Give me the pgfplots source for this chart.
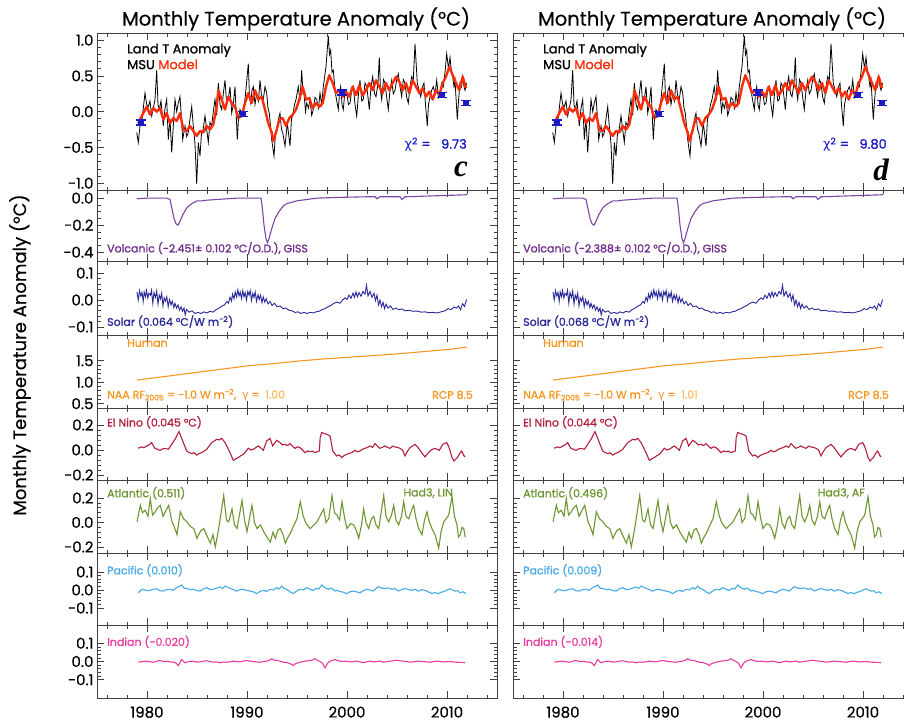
\documentclass[border=0pt]{standalone}
\usepackage{pgfplots}
\pgfplotsset{compat=1.18}
\usepackage{pgfplotstable}
\usepackage{fontspec}
\setmainfont{Poppins}[FakeBold=0.35]
\newfontfamily\labf{Poppins}[FakeBold=1.2]
\newfontfamily\grk{DejaVu Sans}
\newfontfamily\serifbi{Liberation Serif}
\definecolor{mred}{RGB}{250,45,10}
\definecolor{cblue}{RGB}{25,25,200}
\definecolor{cvol}{RGB}{112,45,140}
\definecolor{cvoll}{RGB}{125,70,165}
\definecolor{csol}{RGB}{40,40,150}
\definecolor{chum}{RGB}{245,150,35}
\definecolor{chuml}{RGB}{250,185,90}
\definecolor{cnino}{RGB}{180,30,60}
\definecolor{catl}{RGB}{110,150,50}
\definecolor{cpac}{RGB}{70,170,230}
\definecolor{cind}{RGB}{230,60,160}

\pgfplotstableread{
x y
1978.97 -0.29
1979.13 -0.43
1979.30 -0.20
1979.47 -0.16
1979.63 0.05
1979.80 0.26
1979.97 0.10
1980.13 0.07
1980.30 0.15
1980.47 -0.06
1980.63 0.05
1980.80 0.17
1980.97 0.58
1981.10 0.10
1981.23 0.03
1981.40 0.15
1981.63 -0.20
1981.80 0.05
1981.97 0.17
1982.13 -0.39
1982.30 -0.10
1982.47 -0.57
1982.63 -0.20
1982.80 0.17
1982.97 0.00
1983.13 0.12
1983.30 0.21
1983.45 -0.10
1983.57 -0.39
1983.80 -0.20
1983.97 -0.35
1984.13 -0.29
1984.30 -0.10
1984.47 0.07
1984.63 -0.20
1984.80 -0.45
1984.97 -1.01
1985.13 -0.43
1985.30 -0.62
1985.45 -0.30
1985.57 -0.29
1985.80 -0.06
1985.97 -0.25
1986.13 -0.43
1986.30 -0.15
1986.47 -0.20
1986.63 0.00
1986.80 0.17
1986.97 -0.05
1987.13 0.40
1987.30 0.10
1987.47 0.03
1987.63 0.25
1987.80 0.44
1987.97 0.10
1988.13 0.17
1988.30 0.35
1988.47 -0.02
1988.63 0.10
1988.80 0.35
1989.03 -0.39
1989.15 -0.10
1989.30 0.03
1989.55 -0.05
1989.80 0.17
1990.13 0.67
1990.25 0.20
1990.37 0.12
1990.50 0.30
1990.63 0.35
1990.80 0.10
1990.97 0.26
1991.15 0.15
1991.30 0.44
1991.47 0.20
1991.63 0.17
1991.80 0.35
1991.97 0.26
1992.10 0.05
1992.23 -0.02
1992.47 -0.39
1992.70 -0.62
1992.85 -0.30
1992.97 -0.29
1993.15 -0.10
1993.30 -0.02
1993.45 -0.25
1993.57 -0.29
1993.80 -0.48
1994.03 -0.16
1994.15 -0.30
1994.30 -0.48
1994.45 -0.10
1994.57 -0.06
1994.75 0.10
1994.90 0.17
1995.13 0.35
1995.30 0.15
1995.47 0.58
1995.60 0.25
1995.70 0.26
1995.85 0.00
1995.97 0.12
1996.15 0.05
1996.30 0.17
1996.47 -0.05
1996.63 0.03
1996.80 0.20
1996.97 0.17
1997.15 0.05
1997.30 0.26
1997.47 0.10
1997.63 0.35
1997.90 0.63
1998.13 1.06
1998.25 0.80
1998.37 0.86
1998.50 0.55
1998.63 0.58
1998.80 0.30
1998.90 0.21
1999.13 0.03
1999.25 0.25
1999.37 0.35
1999.50 0.10
1999.63 0.03
1999.80 0.30
1999.97 0.26
2000.15 0.10
2000.30 0.12
2000.47 0.30
2000.63 0.35
2000.80 0.10
2000.97 -0.06
2001.15 0.25
2001.30 0.44
2001.47 0.15
2001.63 0.17
2001.80 0.40
2001.97 0.35
2002.10 0.20
2002.23 0.03
2002.40 0.35
2002.57 0.49
2002.75 0.25
2002.90 0.21
2003.10 0.40
2003.23 0.76
2003.35 0.30
2003.47 0.17
2003.65 0.45
2003.80 0.40
2003.97 0.20
2004.13 0.03
2004.30 0.30
2004.47 0.44
2004.63 0.25
2004.80 0.30
2004.97 0.45
2005.13 0.53
2005.30 0.35
2005.47 0.21
2005.63 0.45
2005.80 0.40
2005.97 0.20
2006.13 0.12
2006.30 0.35
2006.47 0.49
2006.63 0.45
2006.80 0.95
2007.03 0.40
2007.20 0.30
2007.37 0.21
2007.55 0.35
2007.70 0.40
2007.85 0.10
2008.03 -0.20
2008.15 0.10
2008.30 0.21
2008.47 0.30
2008.63 0.35
2008.80 0.25
2008.97 0.44
2009.15 0.20
2009.30 0.26
2009.47 0.40
2009.63 0.35
2009.80 0.55
2009.97 0.81
2010.15 0.60
2010.30 0.76
2010.45 0.55
2010.57 0.49
2010.70 0.35
2010.80 0.44
2010.92 0.15
2011.03 -0.11
2011.15 0.15
2011.30 0.40
2011.45 0.35
2011.57 0.49
2011.70 0.35
2011.80 0.30
2011.95 0.40
}\landT

\pgfplotstableread{
x y
1979.13 -0.16
1979.40 -0.08
1979.63 -0.02
1979.97 0.07
1980.30 -0.04
1980.63 0.05
1980.97 0.00
1981.30 0.05
1981.63 -0.11
1981.97 -0.02
1982.30 -0.16
1982.63 -0.09
1982.97 -0.13
1983.30 -0.02
1983.63 -0.25
1983.97 -0.27
1984.30 -0.20
1984.63 -0.27
1984.97 -0.34
1985.30 -0.27
1985.63 -0.29
1985.97 -0.20
1986.30 -0.25
1986.63 -0.18
1986.97 0.07
1987.13 0.30
1987.47 0.17
1987.80 0.03
1988.13 0.21
1988.47 0.12
1988.80 0.07
1989.13 -0.09
1989.47 -0.06
1989.80 0.12
1990.13 0.26
1990.47 0.12
1990.80 0.30
1991.13 0.17
1991.47 0.21
1991.80 0.03
1992.13 -0.16
1992.47 -0.29
1992.63 -0.41
1992.90 -0.29
1993.23 -0.11
1993.57 -0.09
1993.90 -0.20
1994.23 -0.09
1994.57 -0.04
1994.90 0.03
1995.23 0.17
1995.57 0.35
1995.90 0.17
1996.23 0.19
1996.57 0.05
1996.90 0.12
1997.23 0.07
1997.57 0.12
1997.90 0.35
1998.23 0.51
1998.57 0.40
1998.90 0.26
1999.23 0.30
1999.57 0.21
1999.90 0.28
2000.23 0.21
2000.57 0.35
2000.90 0.23
2001.23 0.37
2001.57 0.23
2001.90 0.30
2002.23 0.40
2002.57 0.30
2002.90 0.44
2003.23 0.35
2003.57 0.26
2003.90 0.40
2004.23 0.30
2004.57 0.40
2004.90 0.49
2005.23 0.42
2005.57 0.30
2005.90 0.40
2006.23 0.26
2006.57 0.44
2006.90 0.35
2007.23 0.26
2007.57 0.33
2007.90 0.21
2008.23 0.28
2008.57 0.17
2008.90 0.30
2009.23 0.23
2009.57 0.40
2009.90 0.49
2010.23 0.63
2010.57 0.51
2010.90 0.40
2011.23 0.30
2011.57 0.49
2011.90 0.33
}\model

\pgfplotstableread{
x y e
1979.4 -0.15 0.035
1989.6 -0.03 0.035
1999.5 0.27 0.035
2009.5 0.23 0.035
2011.9 0.12 0.035
}\errs

\pgfplotstableread{
x y
1979.0 -0.005
1980.0 0.0
1981.0 0.0
1982.0 0.0
1982.3 -0.01
1982.5 -0.08
1982.7 -0.15
1982.9 -0.19
1983.1 -0.20
1983.3 -0.17
1983.6 -0.12
1984.0 -0.07
1984.5 -0.04
1985.0 -0.02
1985.5 -0.02
1986.0 -0.015
1987.0 -0.01
1988.0 -0.005
1989.0 0.0
1990.0 0.0
1991.4 0.0
1991.5 -0.05
1991.7 -0.20
1991.9 -0.30
1992.05 -0.33
1992.2 -0.30
1992.5 -0.22
1992.8 -0.15
1993.2 -0.10
1993.6 -0.06
1994.0 -0.04
1995.0 -0.02
1996.0 -0.01
1997.0 0.0
1999.0 0.005
2002.0 0.01
2002.8 0.01
2003.0 -0.005
2003.3 0.01
2005.3 0.01
2005.5 -0.01
2005.8 0.01
2008.0 0.015
2010.0 0.02
2012.0 0.025
}\volc

\pgfplotstableread{
x y
1979.00 0.030
1979.12 0.000
1979.25 0.035
1979.38 0.015
1979.50 0.028
1979.62 -0.005
1979.72 0.030
1979.85 0.012
1979.95 0.036
1980.08 0.008
1980.20 0.025
1980.35 0.018
1980.45 0.036
1980.58 -0.012
1980.70 0.028
1980.85 0.010
1980.97 0.034
1981.10 -0.015
1981.22 0.018
1981.35 0.004
1981.47 0.026
1981.60 -0.022
1981.72 0.008
1981.85 -0.004
1981.98 0.012
1982.12 -0.025
1982.25 0.002
1982.40 -0.018
1982.52 -0.004
1982.68 -0.028
1982.80 -0.012
1982.95 -0.030
1983.10 -0.018
1983.25 -0.038
1983.40 -0.025
1983.55 -0.042
1983.70 -0.030
1983.82 -0.055
1983.95 -0.035
1984.20 -0.045
1984.50 -0.040
1984.80 -0.050
1985.10 -0.046
1985.40 -0.050
1985.70 -0.044
1986.00 -0.048
1986.30 -0.042
1986.60 -0.045
1986.90 -0.036
1987.20 -0.030
1987.50 -0.022
1987.75 -0.018
1988.00 -0.005
1988.15 -0.012
1988.30 0.010
1988.45 -0.004
1988.55 0.022
1988.70 0.005
1988.82 0.030
1988.95 0.012
1989.08 0.038
1989.20 0.015
1989.32 0.030
1989.45 0.005
1989.58 0.035
1989.70 0.012
1989.82 0.028
1989.95 0.000
1990.08 0.032
1990.20 0.018
1990.32 0.035
1990.45 -0.002
1990.58 0.025
1990.70 0.010
1990.82 0.030
1990.95 -0.005
1991.10 0.020
1991.22 0.002
1991.35 0.018
1991.50 -0.010
1991.62 0.012
1991.78 -0.008
1991.92 0.005
1992.10 -0.015
1992.30 -0.005
1992.50 -0.020
1992.75 -0.012
1993.00 -0.025
1993.30 -0.022
1993.60 -0.032
1993.90 -0.030
1994.20 -0.038
1994.50 -0.040
1994.80 -0.046
1995.10 -0.044
1995.40 -0.050
1995.70 -0.046
1996.00 -0.050
1996.30 -0.046
1996.60 -0.048
1996.90 -0.044
1997.20 -0.042
1997.50 -0.036
1997.80 -0.032
1998.10 -0.025
1998.40 -0.020
1998.70 -0.012
1999.00 -0.008
1999.30 -0.012
1999.55 0.000
1999.80 0.008
2000.00 0.002
2000.20 0.018
2000.40 0.006
2000.60 0.026
2000.75 0.010
2000.90 0.030
2001.05 0.012
2001.20 0.028
2001.40 0.014
2001.60 0.032
2001.80 0.022
2001.95 0.055
2002.10 0.015
2002.30 0.032
2002.50 0.010
2002.70 0.025
2002.85 -0.002
2003.00 0.018
2003.15 -0.018
2003.30 0.000
2003.45 -0.025
2003.60 -0.008
2003.75 -0.032
2003.90 -0.015
2004.10 -0.030
2004.35 -0.022
2004.60 -0.035
2004.90 -0.030
2005.20 -0.036
2005.50 -0.033
2005.80 -0.040
2006.20 -0.038
2006.60 -0.042
2007.00 -0.041
2007.40 -0.045
2007.80 -0.044
2008.20 -0.047
2008.60 -0.046
2009.00 -0.048
2009.40 -0.044
2009.80 -0.040
2010.10 -0.032
2010.40 -0.036
2010.70 -0.026
2010.95 -0.030
2011.15 -0.022
2011.35 -0.036
2011.55 -0.014
2011.75 -0.024
2011.95 0.002
}\solar

\pgfplotstableread{
x y
1979.0 1.05
1982.0 1.14
1985.0 1.23
1988.0 1.32
1990.0 1.38
1991.5 1.41
1992.5 1.43
1995.0 1.49
1997.5 1.54
2000.0 1.58
2002.5 1.62
2005.0 1.66
2007.5 1.71
2010.0 1.76
2012.0 1.82
}\human

\pgfplotstableread{
x y
1979.13 0.013
1979.30 0.020
1979.47 0.024
1979.70 0.018
1979.97 0.032
1980.20 0.040
1980.47 0.059
1980.65 0.030
1980.80 0.013
1981.05 0.005
1981.30 -0.003
1981.55 0.008
1981.80 0.013
1982.13 0.005
1982.47 0.045
1982.80 0.085
1983.20 0.147
1983.57 0.072
1983.97 -0.008
1984.20 -0.020
1984.47 -0.029
1984.70 -0.022
1984.97 -0.040
1985.20 -0.030
1985.47 -0.021
1985.70 -0.010
1985.97 0.005
1986.20 0.030
1986.47 0.059
1986.70 0.070
1986.97 0.085
1987.20 0.080
1987.47 0.093
1987.80 0.059
1988.05 0.020
1988.30 -0.021
1988.63 -0.083
1988.90 -0.070
1989.13 -0.061
1989.40 -0.045
1989.63 -0.035
1989.90 -0.010
1990.13 0.013
1990.40 0.000
1990.63 0.005
1990.90 0.020
1991.13 0.032
1991.40 0.015
1991.63 -0.003
1991.97 0.072
1992.30 0.093
1992.57 0.032
1992.97 0.077
1993.30 0.059
1993.55 0.040
1993.80 0.045
1994.05 0.035
1994.30 0.051
1994.55 0.030
1994.80 0.013
1995.05 0.025
1995.30 0.019
1995.55 0.000
1995.80 -0.021
1996.05 -0.008
1996.30 -0.013
1996.55 -0.010
1996.80 -0.021
1997.23 -0.008
1997.32 0.100
1997.47 0.139
1997.70 0.132
1997.97 0.125
1998.30 0.112
1998.45 0.050
1998.57 -0.008
1998.97 -0.048
1999.20 -0.040
1999.47 -0.061
1999.70 -0.045
1999.97 -0.035
2000.20 -0.028
2000.47 -0.021
2000.80 -0.003
2001.05 -0.015
2001.30 -0.008
2001.55 0.005
2001.80 0.013
2002.05 0.020
2002.30 0.032
2002.55 0.020
2002.80 0.051
2003.05 0.030
2003.30 0.013
2003.55 0.022
2003.80 0.032
2004.05 0.020
2004.30 0.013
2004.55 0.030
2004.80 0.024
2005.05 0.020
2005.30 0.013
2005.55 0.000
2005.80 -0.048
2006.05 -0.010
2006.30 0.019
2006.55 0.030
2006.80 0.045
2007.05 0.025
2007.30 -0.003
2007.55 -0.030
2007.80 -0.056
2008.05 -0.030
2008.30 -0.008
2008.55 0.005
2008.80 0.013
2009.23 -0.003
2009.57 0.045
2009.97 0.059
2010.15 0.030
2010.30 -0.003
2010.50 -0.060
2010.70 -0.088
2011.03 -0.061
2011.25 -0.030
2011.47 -0.008
2011.65 -0.040
2011.80 -0.056
}\nino

\pgfplotstableread{
x y
1979.00 0.005
1979.33 0.14
1979.55 0.08
1979.83 0.10
1980.10 0.05
1980.33 0.196
1980.55 0.06
1980.83 0.087
1981.05 0.12
1981.33 0.14
1981.60 0.05
1981.83 0.087
1982.17 0.14
1982.50 0.005
1982.75 -0.04
1983.00 -0.10
1983.33 0.087
1983.65 0.03
1984.00 0.005
1984.30 -0.03
1984.67 -0.05
1985.00 -0.13
1985.35 -0.07
1985.67 -0.05
1986.00 -0.11
1986.33 -0.17
1986.60 -0.10
1986.83 -0.20
1987.17 -0.05
1987.67 0.22
1987.95 0.02
1988.17 0.005
1988.50 0.11
1988.75 -0.02
1989.00 -0.05
1989.50 0.18
1989.75 0.02
1990.00 -0.076
1990.50 0.14
1990.75 0.0
1991.00 -0.05
1991.35 -0.02
1991.67 -0.076
1992.00 -0.12
1992.33 -0.16
1992.60 -0.08
1992.83 -0.13
1993.10 -0.06
1993.33 -0.05
1993.60 -0.10
1993.83 -0.17
1994.10 -0.12
1994.33 -0.09
1994.70 -0.02
1995.00 0.03
1995.33 0.17
1995.60 0.06
1995.83 0.005
1996.10 -0.03
1996.33 -0.05
1996.70 -0.02
1997.00 0.005
1997.35 0.06
1997.67 0.11
1997.90 0.0
1998.17 0.03
1998.50 0.22
1998.75 0.08
1999.00 0.06
1999.25 0.02
1999.50 0.17
1999.75 0.04
2000.00 -0.05
2000.35 -0.01
2000.67 -0.02
2000.90 -0.06
2001.17 -0.13
2001.45 -0.02
2001.67 0.11
2001.90 0.0
2002.17 -0.05
2002.45 0.03
2002.67 0.05
2002.90 -0.02
2003.17 -0.05
2003.67 0.22
2003.90 0.05
2004.17 0.005
2004.45 0.06
2004.67 0.14
2004.90 0.02
2005.17 -0.02
2005.45 0.05
2005.67 0.17
2005.90 0.05
2006.17 0.03
2006.45 0.10
2006.67 0.14
2006.90 0.03
2007.17 -0.05
2007.50 -0.10
2007.75 0.02
2008.00 0.087
2008.25 0.0
2008.50 -0.05
2008.80 -0.10
2009.17 -0.21
2009.40 -0.08
2009.67 0.005
2010.00 0.04
2010.17 0.06
2010.50 0.21
2010.75 0.05
2011.00 -0.02
2011.15 -0.12
2011.33 -0.10
2011.50 -0.04
2011.67 -0.05
2011.83 -0.12
}\atl

\pgfplotstableread{
x y
1979.13 -0.015
1979.40 0.000
1979.63 0.004
1979.95 -0.004
1980.30 -0.002
1980.60 0.004
1980.97 0.007
1981.30 -0.004
1981.63 -0.006
1981.95 0.002
1982.30 0.004
1982.60 -0.002
1982.97 0.013
1983.47 0.028
1983.70 0.010
1983.97 0.009
1984.30 0.002
1984.63 0.004
1984.95 -0.003
1985.30 -0.006
1985.63 0.006
1985.97 0.013
1986.30 0.002
1986.63 0.004
1986.95 0.010
1987.30 0.017
1987.55 0.008
1987.80 0.022
1988.30 0.009
1988.63 0.002
1988.97 -0.006
1989.30 0.002
1989.63 0.004
1989.95 -0.002
1990.30 -0.006
1990.63 -0.010
1990.97 -0.020
1991.30 -0.008
1991.63 -0.002
1991.95 -0.008
1992.30 0.004
1992.63 0.000
1992.97 0.013
1993.20 0.005
1993.47 0.022
1993.70 0.008
1993.97 0.004
1994.30 -0.010
1994.63 -0.020
1994.95 -0.006
1995.30 0.004
1995.63 0.000
1995.97 0.013
1996.30 0.004
1996.63 -0.002
1996.95 0.010
1997.20 0.006
1997.47 0.028
1997.80 0.012
1998.13 0.004
1998.45 0.010
1998.80 -0.006
1999.05 -0.002
1999.30 -0.009
1999.63 -0.012
1999.97 -0.020
2000.30 -0.010
2000.63 -0.006
2000.95 -0.010
2001.30 -0.015
2001.63 -0.004
2001.97 0.004
2002.30 0.000
2002.63 -0.006
2002.90 0.008
2003.13 0.019
2003.45 0.010
2003.80 0.009
2004.13 0.012
2004.47 0.004
2004.80 0.008
2005.13 -0.006
2005.45 0.002
2005.80 0.009
2006.13 0.002
2006.47 -0.002
2006.80 0.004
2007.13 -0.006
2007.45 0.002
2007.80 -0.002
2008.13 -0.010
2008.47 -0.019
2008.80 -0.014
2009.13 -0.020
2009.45 -0.012
2009.80 -0.006
2010.30 0.007
2010.55 0.000
2010.80 -0.006
2011.05 -0.004
2011.30 -0.015
2011.60 -0.010
2011.90 -0.020
}\pac

\pgfplotstableread{
x y
1979.13 -0.004
1979.55 -0.001
1979.97 0.002
1980.30 -0.001
1980.63 -0.004
1980.97 0.002
1981.30 0.006
1981.63 0.000
1981.97 0.002
1982.30 -0.002
1982.63 -0.004
1982.90 -0.008
1983.13 -0.022
1983.30 -0.005
1983.47 0.011
1983.80 -0.007
1984.20 0.000
1984.63 0.002
1984.95 -0.003
1985.30 -0.002
1985.63 0.002
1985.97 0.004
1986.30 0.000
1986.63 -0.004
1986.95 -0.002
1987.30 -0.007
1987.63 -0.003
1987.97 -0.004
1988.30 -0.001
1988.63 0.002
1988.97 0.000
1989.30 -0.002
1989.63 0.002
1989.97 0.006
1990.30 0.002
1990.63 0.000
1990.97 -0.002
1991.30 -0.004
1991.63 0.000
1991.97 0.002
1992.20 0.006
1992.47 0.015
1992.70 0.008
1992.97 0.006
1993.30 0.002
1993.63 -0.004
1993.95 -0.006
1994.30 -0.011
1994.63 -0.022
1994.85 -0.012
1995.13 -0.007
1995.45 -0.002
1995.80 0.002
1996.13 0.004
1996.47 0.007
1996.80 0.015
1997.05 0.006
1997.30 0.000
1997.55 -0.010
1997.80 -0.035
1998.05 -0.010
1998.30 0.002
1998.55 0.006
1998.80 0.011
1999.13 0.004
1999.47 0.000
1999.90 0.002
2000.30 -0.002
2000.63 0.000
2000.97 0.002
2001.30 -0.002
2001.63 -0.007
2001.97 -0.002
2002.30 0.002
2002.63 -0.002
2002.97 0.000
2003.30 0.002
2003.63 -0.004
2003.97 -0.001
2004.30 0.002
2004.63 0.004
2004.97 0.007
2005.30 0.004
2005.63 0.002
2005.97 0.000
2006.30 -0.004
2006.63 -0.002
2006.97 0.002
2007.30 0.001
2007.63 0.000
2007.97 -0.002
2008.30 -0.004
2008.63 -0.001
2008.97 0.002
2009.30 0.000
2009.63 -0.002
2009.97 -0.001
2010.30 0.000
2010.63 -0.002
2010.97 -0.004
2011.40 -0.005
2011.80 -0.007
}\ind

\pgfplotsset{
  pan/.style={scale only axis, width=400pt, xmin=1975, xmax=2015,
    anchor=north west,
    xtick={1980,1990,2000,2010}, xticklabels={},
    minor xtick={1976,1978,...,2014},
    tick align=inside, major tick length=7pt, minor tick length=3.5pt,
    axis line style={black!75, line width=0.7pt},
    every tick/.style={black!75, line width=0.7pt},
    yticklabel style={font=\fontsize{15}{15}\selectfont, black, inner ysep=0.5pt},
    minor y tick num=4},
}
\tikzset{lab/.style={anchor=west, font=\labf\fontsize{11}{11}\selectfont, inner sep=0pt}}

\newcommand{\drawcol}[1]{%
\begin{axis}[pan, at={(#1pt,-33pt)}, height=157pt, ymin=-1.095, ymax=1.1,
  ytick={-1,-0.5,0,0.5,1}, yticklabels={−1.0,−0.5,0.0,0.5,1.0}, ylabs]
\addplot[black, line width=0.8pt] table {\landT};
\addplot[mred, line width=2.4pt, line join=round] table {\model};
\addplot[cblue, line width=1.5pt, only marks, mark=square, mark size=2.2pt,
  error bars/.cd, y dir=both, y explicit,
  error bar style={line width=1.5pt, cblue},
  error mark options={rotate=90, mark size=5pt, line width=1.5pt, cblue}]
  table[x=x, y=y, y error=e] {\errs};
\node[lab, font=\labf\fontsize{13}{13}\selectfont] at (rel axis cs:0.075,0.89) {Land T Anomaly};
\node[lab, font=\labf\fontsize{13}{13}\selectfont] at (rel axis cs:0.075,0.80) {MSU \textcolor{mred}{Model}};
\node[anchor=east, inner sep=0pt, text=cblue, font=\labf\fontsize{13}{13}\selectfont] at (rel axis cs:\chix,0.29) {{\grk χ}\textsuperscript{2} =\ \ \ \chival};
\node[inner sep=0pt, font=\serifbi\bfseries\itshape\fontsize{31}{31}\selectfont] at (rel axis cs:\letx,0.13) {\pletter};
\end{axis}
\begin{axis}[pan, at={(#1pt,-190pt)}, height=71pt, ymin=-0.465, ymax=0.06,
  ytick={-0.4,-0.2,0}, yticklabels={−0.4,−0.2,0.0}, minor y tick num=3, ylabs]
\addplot[cvoll, line width=1.1pt] table {\volc};
\node[lab, text=cvol] at (rel axis cs:0.025,0.18) {\volclab};
\end{axis}
\begin{axis}[pan, at={(#1pt,-261pt)}, height=74pt, ymin=-0.13, ymax=0.145,
  ytick={-0.1,0,0.1}, yticklabels={−0.1,0.0,0.1}, ylabs]
\addplot[csol, line width=0.9pt] table {\solar};
\node[lab, text=csol] at (rel axis cs:0.025,0.18) {\solarlab};
\end{axis}
\begin{axis}[pan, at={(#1pt,-335pt)}, height=73pt, ymin=0.4, ymax=2.1,
  ytick={0.5,1,1.5}, yticklabels={0.5,1.0,1.5}, ylabs]
\addplot[chum, line width=1.1pt] table {\human};
\node[lab, text=chum] at (rel axis cs:0.075,0.89) {Human};
\node[lab, text=chum] at (rel axis cs:0.025,0.18) {NAA RF\textsubscript{2005} = −1.0 W m\textsuperscript{−2}, \ {\grk γ} = \ \textcolor{chuml}{\gamval}};
\node[lab, anchor=east, text=chum] at (rel axis cs:0.94,0.18) {RCP 8.5};
\end{axis}
\begin{axis}[pan, at={(#1pt,-408pt)}, height=72pt, ymin=-0.24, ymax=0.335,
  ytick={-0.2,0,0.2}, yticklabels={−0.2,0.0,0.2}, ylabs]
\addplot[cnino, line width=1.1pt] table {\nino};
\node[lab, text=cnino] at (rel axis cs:0.025,0.8) {\ninolab};
\end{axis}
\begin{axis}[pan, at={(#1pt,-480pt)}, height=73pt, ymin=-0.25, ymax=0.347,
  ytick={-0.2,0,0.2}, yticklabels={−0.2,0.0,0.2}, ylabs]
\addplot[catl, line width=1.1pt] table {\atl};
\node[lab, text=catl] at (rel axis cs:0.025,0.82) {\atllab};
\node[lab, anchor=east, text=catl] at (rel axis cs:\hadx,0.82) {\hadlab};
\end{axis}
\begin{axis}[pan, at={(#1pt,-553pt)}, height=72pt, ymin=-0.194, ymax=0.205,
  ytick={-0.1,0,0.1}, yticklabels={−0.1,0.0,0.1}, ylabs]
\addplot[cpac, line width=1.1pt] table {\pac};
\node[lab, text=cpac] at (rel axis cs:0.025,0.76) {\paclab};
\end{axis}
\begin{axis}[pan, at={(#1pt,-625pt)}, height=73pt, ymin=-0.2, ymax=0.2,
  ytick={-0.1,0,0.1}, yticklabels={−0.1,0.0,0.1}, ylabs,
  xticklabels={1980,1990,2000,2010},
  xticklabel style={font=\fontsize{15}{15}\selectfont, yshift=-5pt}]
\addplot[cind, line width=1.1pt] table {\ind};
\node[lab, text=cind] at (rel axis cs:0.025,0.77) {\indlab};
\end{axis}
\node[font=\fontsize{19.5}{19.5}\selectfont] at (#1pt+199pt,-19pt) {Monthly Temperature Anomaly (°C)};
}

\begin{document}
\begin{tikzpicture}
\path[use as bounding box] (0pt,0pt) rectangle (904pt,-723pt);
\node[rotate=90, font=\fontsize{18}{18}\selectfont] at (20pt,-355pt) {Monthly Temperature Anomaly (°C)};
% left column
\pgfplotsset{ylabs/.style={}}
\def\chival{9.73}\def\pletter{c}\def\chix{0.925}\def\letx{0.91}
\def\volclab{Volcanic (−2.451± 0.102 °C/O.D.), GISS}
\def\solarlab{Solar (0.064 °C/W m\textsuperscript{−2})}
\def\gamval{1.00}
\def\ninolab{El Nino (0.045 °C)}
\def\atllab{Atlantic (0.511)}
\def\hadlab{Had3, LIN}\def\hadx{0.89}
\def\paclab{Pacific (0.010)}
\def\indlab{Indian (−0.020)}
\drawcol{97}
% right column
\pgfplotsset{ylabs/.style={yticklabels={}}}
\def\chival{9.80}\def\pletter{d}\def\chix{0.935}\def\letx{0.92}
\def\volclab{Volcanic (−2.388± 0.102 °C/O.D.), GISS}
\def\solarlab{Solar (0.068 °C/W m\textsuperscript{−2})}
\def\gamval{1.01}
\def\ninolab{El Nino (0.044 °C)}
\def\atllab{Atlantic (0.496)}
\def\hadlab{Had3, AF}\def\hadx{0.88}
\def\paclab{Pacific (0.009)}
\def\indlab{Indian (−0.014)}
\drawcol{513}
\end{tikzpicture}
\end{document}
